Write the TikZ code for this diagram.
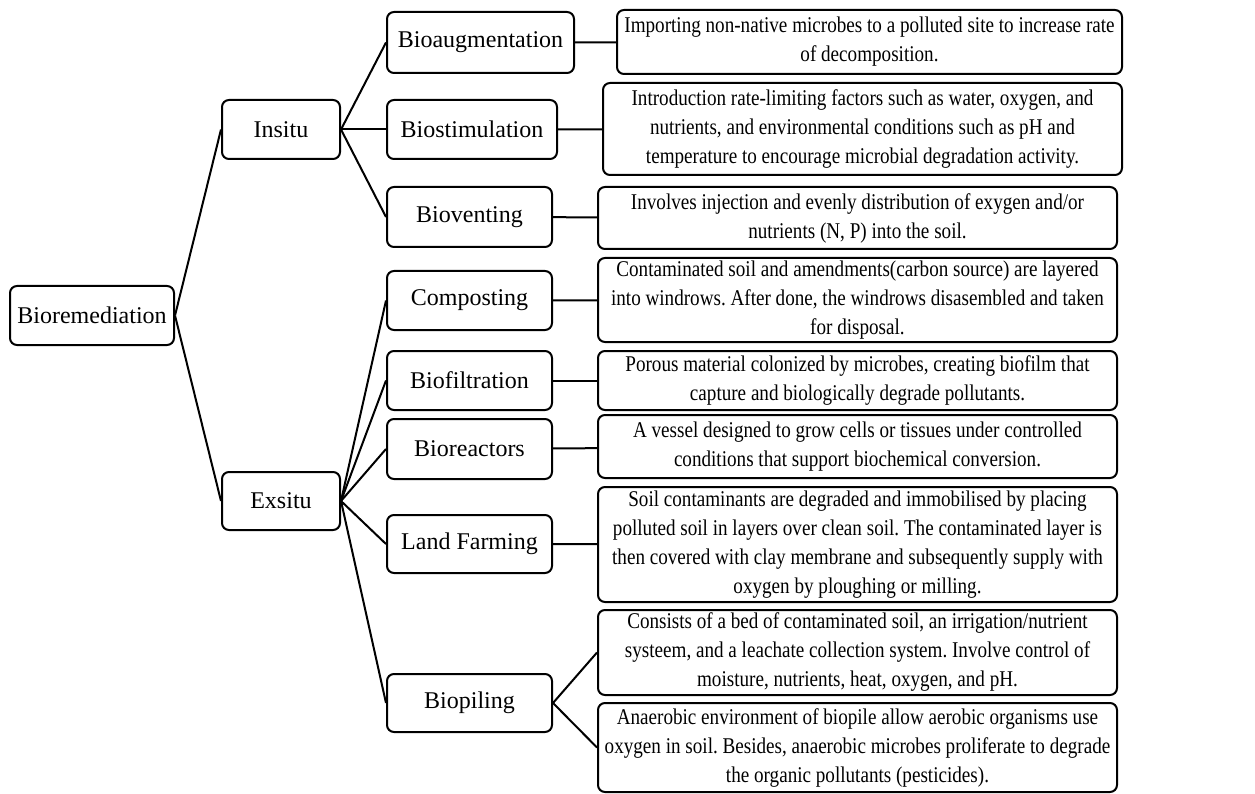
\documentclass[tikz,border=0pt]{standalone}
\usepackage{fontspec}
\setmainfont{Liberation Serif}
\newfontfamily\descfont{Liberation Serif}[FakeStretch=0.85]
\usepackage{tikz}
\usetikzlibrary{positioning}
\frenchspacing

\begin{document}
\begin{tikzpicture}[
    x=1pt, y=-1pt,
    box/.style={
        draw,
        rectangle,
        rounded corners=7pt,
        line width=2pt,
        inner sep=0pt,
        minimum height=59pt,
        align=center,
        font=\fontsize{24}{28}\selectfont
    },
    method/.style={box, minimum width=165pt},
    descbox/.style={box, minimum width=519pt, font=\descfont\fontsize{22.5}{29}\selectfont},
    link/.style={line width=2pt}
]
\useasboundingbox (0,0) rectangle (1255,794);

% root and the two branches
\node[box, minimum width=164pt] (biorem) at (92,315.5) {Bioremediation};
\node[box, minimum width=118pt] (insitu) at (281,129.5) {Insitu};
\node[box, minimum width=118pt, minimum height=58pt] (exsitu) at (281,501) {Exsitu};

% insitu methods
\node[method, minimum width=187pt, minimum height=61pt] (bioaug) at (480.5,42.5) {Bioaugmentation};
\node[method, minimum width=170pt] (biostim) at (472,129.5) {Biostimulation};
\node[method, minimum height=60pt] (biovent) at (469.5,217) {Bioventing};

% exsitu methods
\node[method] (compost) at (469.5,300.5) {Composting};
\node[method] (biofilt) at (469.5,380.5) {Biofiltration};
\node[method, minimum height=60pt] (bioreact) at (469.5,449) {Bioreactors};
\node[method, minimum height=58pt] (landfarm) at (469.5,544) {Land Farming};
\node[method, minimum height=58pt] (biopile) at (469.5,703) {Biopiling};

% descriptions
\node[descbox, minimum width=505pt, minimum height=64pt] (bioaugtxt) at (869.5,42) {
Importing non-native microbes to a polluted site to increase rate \\
of decomposition.
};
\node[descbox, minimum height=92pt] (biostimtxt) at (862.5,129) {
Introduction rate-limiting factors such as water, oxygen, and \\
nutrients, and environmental conditions such as pH and \\
temperature to encourage microbial degradation activity.
};
\node[descbox, minimum height=62pt] (bioventtxt) at (857.5,218) {
Involves injection and evenly distribution of exygen and/or \\
nutrients (N, P) into the soil.
};
\node[descbox, minimum height=84pt] (composttxt) at (857.5,300) {
Contaminated soil and amendments(carbon source) are layered \\
into windrows. After done, the windrows disasembled and taken \\
for disposal.
};
\node[descbox] (biofilttxt) at (857.5,380.5) {
Porous material colonized by microbes, creating biofilm that \\
capture and biologically degrade pollutants.
};
\node[descbox, minimum height=63pt] (bioreacttxt) at (857.5,446.5) {
A vessel designed to grow cells or tissues under controlled \\
conditions that support biochemical conversion.
};
\node[descbox, minimum height=115pt] (landfarmtxt) at (857.5,544.5) {
Soil contaminants are degraded and immobilised by placing \\
polluted soil in layers over clean soil. The contaminated layer is \\
then covered with clay membrane and subsequently supply with \\
oxygen by ploughing or milling.
};
\node[descbox, minimum height=85pt] (biopiletxta) at (857.5,652.5) {
Consists of a bed of contaminated soil, an irrigation/nutrient \\
systeem, and a leachate collection system. Involve control of \\
moisture, nutrients, heat, oxygen, and pH.
};
\node[descbox, minimum height=89pt] (biopiletxtb) at (857.5,747.5) {
Anaerobic environment of biopile allow aerobic organisms use \\
oxygen in soil. Besides, anaerobic microbes proliferate to degrade \\
the organic pollutants (pesticides).
};

\draw[link] (biorem.east) -- (insitu.west);
\draw[link] (biorem.east) -- (exsitu.west);

\draw[link] (insitu.east) -- (bioaug.west);
\draw[link] (insitu.east) -- (biostim.west);
\draw[link] (insitu.east) -- (biovent.west);

\draw[link] (exsitu.east) -- (compost.west);
\draw[link] (exsitu.east) -- (biofilt.west);
\draw[link] (exsitu.east) -- (bioreact.west);
\draw[link] (exsitu.east) -- (landfarm.west);
\draw[link] (exsitu.east) -- (biopile.west);

\draw[link] (bioaug) -- (bioaugtxt);
\draw[link] (biostim) -- (biostimtxt);
\draw[link] (biovent) -- (bioventtxt);
\draw[link] (compost) -- (composttxt);
\draw[link] (biofilt) -- (biofilttxt);
\draw[link] (bioreact) -- (bioreacttxt);
\draw[link] (landfarm) -- (landfarmtxt);
\draw[link] (biopile.east) -- (biopiletxta.west);
\draw[link] (biopile.east) -- (biopiletxtb.west);

\end{tikzpicture}
\end{document}
